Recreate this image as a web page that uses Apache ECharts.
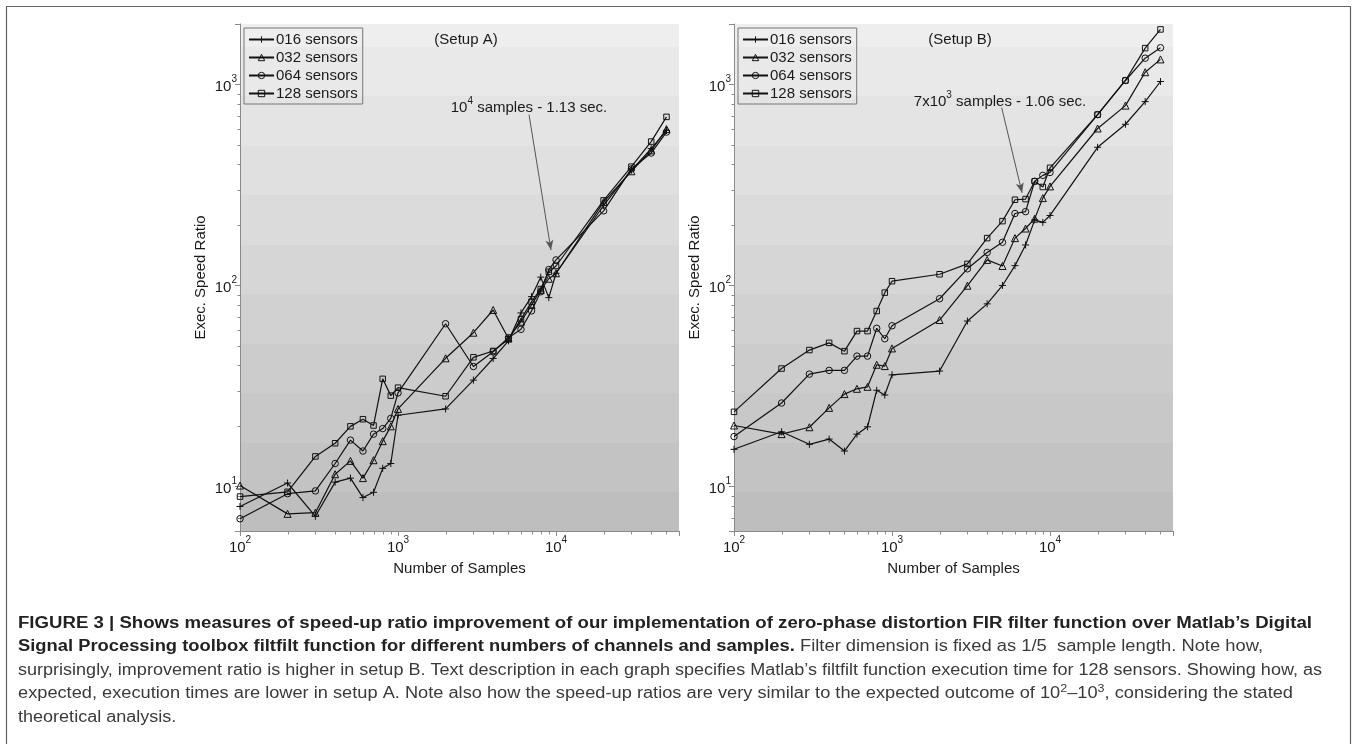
<!DOCTYPE html>
<html><head><meta charset="utf-8">
<script src="https://cdn.jsdelivr.net/npm/echarts@6/dist/echarts.min.js"></script>
<style>html,body{margin:0;padding:0;background:#fff}#c{width:1357px;height:744px}</style>
</head><body><div id="c"></div>
<script>
// ---------- data ----------
const samples = [100,200,300,400,500,600,700,800,900,1000,2000,3000,4000,5000,6000,7000,8000,9000,10000,20000,30000,40000,50000];
const seriesNames = ['016 sensors','032 sensors','064 sensors','128 sensors'];

// Setup A
const setupA_016 = [7.95,10.4,7.1,10.5,11.0,8.8,9.35,12.3,13.0,22.6,24.3,33.8,43.3,53,73,88,110,87,115,250,375,480,590];
const setupA_032 = [10.1,7.3,7.4,11.5,13.4,11.0,13.5,16.8,19.9,24.3,43.4,58.2,75.5,54.5,66,80,95,108,115,260,370,470,600];
const setupA_064 = [6.9,9.2,9.5,13.0,17.0,15.0,18.2,19.4,21.8,29.2,64.5,39.5,46.8,55,60.5,74.7,93,120,134,235,380,456,580];
const setupA_128 = [8.9,9.4,14.1,16.4,19.9,21.6,20.1,34.3,28.3,31.0,28.1,43.9,47.2,54,68,83,96,117,125,265,390,520,690];

// Setup B
const setupB_016 = [15.3,18.7,16.2,17.2,15.0,18.2,19.8,30.1,28.5,35.9,37.5,66.5,81,100,125.5,159,212,206,223,487,634,822,1035];
const setupB_032 = [20.1,18.2,19.7,24.6,28.8,30.6,31.3,40.3,39.7,48.6,67.3,99.7,134,125,172,192,215,272,311,604,785,1151,1333];
const setupB_064 = [17.7,26.0,36.2,37.8,37.8,44.5,44.5,61.2,54.3,63,85.9,121,146,164,228,233,330,353,365,708,1047,1352,1524];
const setupB_128 = [23.5,38.6,47.7,51.8,47.1,59.3,59.3,74.6,92.1,105,113.7,128,172,209,267,269,330,309,385,708,1047,1517,1880];

// axes
const xRange = [100, 60000];
const yRange = [6, 2000];
const xMajorTicks = [100, 1000, 10000];
const yMajorTicks = [10, 100, 1000];
const xMinorTicks = [200,300,400,500,600,700,800,900,2000,3000,4000,5000,6000,7000,8000,9000,20000,30000,40000,50000];
const yMinorTicks = [7,8,9,20,30,40,50,60,70,80,90,200,300,400,500,600,700,800,900];

// texts
const panelTitles = ['(Setup A)', '(Setup B)'];
const xAxisTitle = 'Number of Samples';
const yAxisTitle = 'Exec. Speed Ratio';
const annotA = {pre: '10', exp: '4', post: ' samples - 1.13 sec.', from: [6745, 708], to: [9290, 150]};
const annotB = {pre: '7x10', exp: '3', post: ' samples - 1.06 sec.', from: [4943, 767], to: [6653, 289]};

const captionLines = [
  [['b','FIGURE 3 | Shows measures of speed-up ratio improvement of our implementation of zero-phase distortion FIR filter function over Matlab\u2019s Digital']],
  [['b','Signal Processing toolbox filtfilt function for different numbers of channels and samples.'],['n',' Filter dimension is fixed as 1/5  sample length. Note how,']],
  [['n','surprisingly, improvement ratio is higher in setup B. Text description in each graph specifies Matlab\u2019s filtfilt function execution time for 128 sensors. Showing how, as']],
  [['n','expected, execution times are lower in setup A. Note also how the speed-up ratios are very similar to the expected outcome of 10'],['s','2'],['n','\u201310'],['s','3'],['n',', considering the stated']],
  [['n','theoretical analysis.']]
];
const captionTargetRight = [1312, 1263, 1322, 1293, null];

// ---------- chart ----------
const chart = echarts.init(document.getElementById('c'), null, {renderer: 'canvas'});
const FONT = '"Liberation Sans", Arial, sans-serif';
const txt = '#1a1a1a';
const axisGray = '#8a8a8a';

// banded background
const bandTop = 24, bandH = 507;
const bounds = [24];
for (let b = 47; b < 531; b += 49.5) bounds.push(b);
bounds.push(531);
const nB = bounds.length - 1;
const stops = [];
for (let i = 0; i < nB; i++) {
  const t = i / (nB - 1);
  const g = Math.round(0xee + (0xbe - 0xee) * t);
  const c = 'rgb(' + g + ',' + g + ',' + g + ')';
  stops.push({offset: (bounds[i] - bandTop) / bandH, color: c});
  stops.push({offset: Math.min(1, (bounds[i + 1] - bandTop) / bandH - 0.0001), color: c});
}
const bg = new echarts.graphic.LinearGradient(0, 0, 0, 1, stops);

function powLabel(v, majors) {
  for (const m of majors) if (Math.abs(v - m) / m < 1e-6) return '{b|10}{s|' + Math.round(Math.log10(m)) + '}';
  return '';
}
const labelRich = {
  b: {fontSize: 15, fontFamily: FONT, color: txt, lineHeight: 20, verticalAlign: 'bottom'},
  s: {fontSize: 10, fontFamily: FONT, color: txt, lineHeight: 12, verticalAlign: 'top'}
};

function xAxis(i) {
  return {type: 'log', logBase: 10, gridIndex: i, min: xRange[0], max: xRange[1],
    axisLine: {show: true, onZero: false, lineStyle: {color: axisGray, width: 1}},
    axisTick: {show: true, length: 5, inside: false, lineStyle: {color: axisGray}},
    axisLabel: {margin: 4, formatter: v => powLabel(v, xMajorTicks), rich: labelRich},
    splitLine: {show: false}, minorTick: {show: false},
    name: xAxisTitle, nameLocation: 'middle', nameGap: 30,
    nameTextStyle: {fontSize: 15, fontFamily: FONT, color: txt}};
}
function yAxis(i) {
  return {type: 'log', logBase: 10, gridIndex: i, min: yRange[0], max: yRange[1],
    axisLine: {show: true, onZero: false, lineStyle: {color: axisGray, width: 1}},
    axisTick: {show: true, length: 5, inside: false, lineStyle: {color: axisGray}},
    axisLabel: {margin: 3, formatter: v => powLabel(v, yMajorTicks), rich: labelRich},
    splitLine: {show: false}, minorTick: {show: false},
    name: yAxisTitle, nameLocation: 'middle', nameGap: 32,
    nameTextStyle: {fontSize: 15, fontFamily: FONT, color: txt}};
}

const symbols = [
  {symbol: 'path://M0,5L10,5M5,0L5,10', size: 7, fill: '#111'},
  {symbol: 'triangle', size: 7, fill: 'rgba(0,0,0,0)'},
  {symbol: 'circle', size: 6.5, fill: 'rgba(0,0,0,0)'},
  {symbol: 'rect', size: 5.5, fill: 'rgba(0,0,0,0)'}
];

function lineSeries(k, data, gi, annot) {
  const s = {
    type: 'line', name: seriesNames[k], xAxisIndex: gi, yAxisIndex: gi,
    data: samples.map((x, i) => [x, data[i]]),
    symbol: symbols[k].symbol, symbolSize: symbols[k].size, showSymbol: true,
    lineStyle: {color: '#111', width: 1.2},
    itemStyle: {color: symbols[k].fill, borderColor: '#111', borderWidth: 1},
    emphasis: {disabled: true}, silent: true, z: 3, clip: false
  };
  if (annot) {
    s.markLine = {
      silent: true, symbol: ['none', 'arrow'], symbolSize: [6, 10],
      lineStyle: {color: '#555', width: 1, type: 'solid'}, label: {show: false},
      data: [[{coord: annot.from}, {coord: annot.to}]]
    };
  }
  return s;
}

function minorTickSeries(gi) {
  const d = [];
  xMinorTicks.forEach(v => d.push([v, yRange[0], 0]));
  yMinorTicks.forEach(v => d.push([xRange[0], v, 1]));
  return {
    type: 'custom', xAxisIndex: gi, yAxisIndex: gi, silent: true, clip: false, z: 2,
    data: d, encode: {x: 0, y: 1},
    renderItem: (params, api) => {
      const p = api.coord([api.value(0), api.value(1)]);
      const o = api.value(2);
      const x = Math.round(p[0]) + 0.5, y = Math.round(p[1]) + 0.5;
      const shape = o === 0 ? {x1: x, y1: y, x2: x, y2: y + 3} : {x1: x - 3, y1: y, x2: x, y2: y};
      return {type: 'line', shape, style: {stroke: axisGray, lineWidth: 1}};
    }
  };
}

// caption fitting
const mctx = document.createElement('canvas').getContext('2d');
const CAPF = 16;
const capFonts = {
  b: 'bold ' + CAPF + 'px ' + FONT,
  n: CAPF + 'px ' + FONT,
  s: '11px ' + FONT
};
const capX = 18;
const capY0 = 622, capDY = 23.5;
const capScales = captionLines.map((segs, li) => {
  let w = 0;
  segs.forEach(([st, t]) => { mctx.font = capFonts[st]; w += mctx.measureText(t).width; });
  const tr = captionTargetRight[li];
  return tr ? (tr - capX) / w : null;
});
const captionGraphics = captionLines.map((segs, li) => {
  let text = '';
  segs.forEach(([st, t]) => { text += '{' + st + '|' + t + '}'; });
  const sx = capScales[li] || capScales[2];
  return {
    type: 'text', x: capX, y: capY0 + li * capDY, scaleX: sx, originX: 0, silent: true,
    style: {
      text, align: 'left', verticalAlign: 'middle',
      rich: {
        b: {fontSize: CAPF, fontWeight: 'bold', fontFamily: FONT, fill: '#222', lineHeight: 19, verticalAlign: 'bottom'},
        n: {fontSize: CAPF, fontFamily: FONT, fill: '#3a3a3a', lineHeight: 19, verticalAlign: 'bottom'},
        s: {fontSize: 11, fontFamily: FONT, fill: '#3a3a3a', lineHeight: 12, verticalAlign: 'top'}
      }
    }
  };
});

function annotText(a, cx, cy) {
  return {type: 'text', x: cx, y: cy, silent: true, z: 10,
    style: {text: '{b|' + a.pre + '}{s|' + a.exp + '}{b|' + a.post + '}', align: 'center', verticalAlign: 'middle',
      rich: {
        b: {fontSize: 15, fontFamily: FONT, fill: txt, lineHeight: 19, verticalAlign: 'bottom'},
        s: {fontSize: 10, fontFamily: FONT, fill: txt, lineHeight: 12, verticalAlign: 'top'}
      }}};
}

const legendBase = {
  orient: 'vertical', top: 28, padding: [3, 5, 2, 4], itemGap: 1,
  itemWidth: 25, itemHeight: 8, itemStyle: {borderColor: '#111', borderWidth: 1},
  borderColor: '#777', borderWidth: 1, backgroundColor: 'transparent',
  textStyle: {fontSize: 15, fontFamily: FONT, color: txt, lineHeight: 17, padding: [0, 0, 0, -3]},
  data: seriesNames, selectedMode: false
};

const option = {
  animation: false,
  backgroundColor: '#fff',
  grid: [
    {left: 240, top: 24, width: 439, height: 507, show: true, backgroundColor: bg, borderWidth: 0},
    {left: 734, top: 24, width: 439, height: 507, show: true, backgroundColor: bg, borderWidth: 0}
  ],
  xAxis: [xAxis(0), xAxis(1)],
  yAxis: [yAxis(0), yAxis(1)],
  legend: [Object.assign({left: 244}, legendBase), Object.assign({left: 738}, legendBase)],
  series: [
    lineSeries(0, setupA_016, 0), lineSeries(1, setupA_032, 0), lineSeries(2, setupA_064, 0), lineSeries(3, setupA_128, 0, annotA),
    lineSeries(0, setupB_016, 1), lineSeries(1, setupB_032, 1), lineSeries(2, setupB_064, 1), lineSeries(3, setupB_128, 1, annotB),
    minorTickSeries(0), minorTickSeries(1)
  ],
  graphic: [
    {type: 'rect', silent: true, shape: {x: 6.5, y: 6.5, width: 1344, height: 800}, style: {fill: 'none', stroke: '#666', lineWidth: 1.2}},
    {type: 'text', x: 466, y: 40, silent: true, style: {text: panelTitles[0], align: 'center', verticalAlign: 'middle', fontSize: 15, fontFamily: FONT, fill: txt}},
    {type: 'text', x: 960, y: 40, silent: true, style: {text: panelTitles[1], align: 'center', verticalAlign: 'middle', fontSize: 15, fontFamily: FONT, fill: txt}},
    annotText(annotA, 529, 106),
    annotText(annotB, 1000, 100)
  ].concat(captionGraphics)
};
chart.setOption(option);
</script>
</body></html>
